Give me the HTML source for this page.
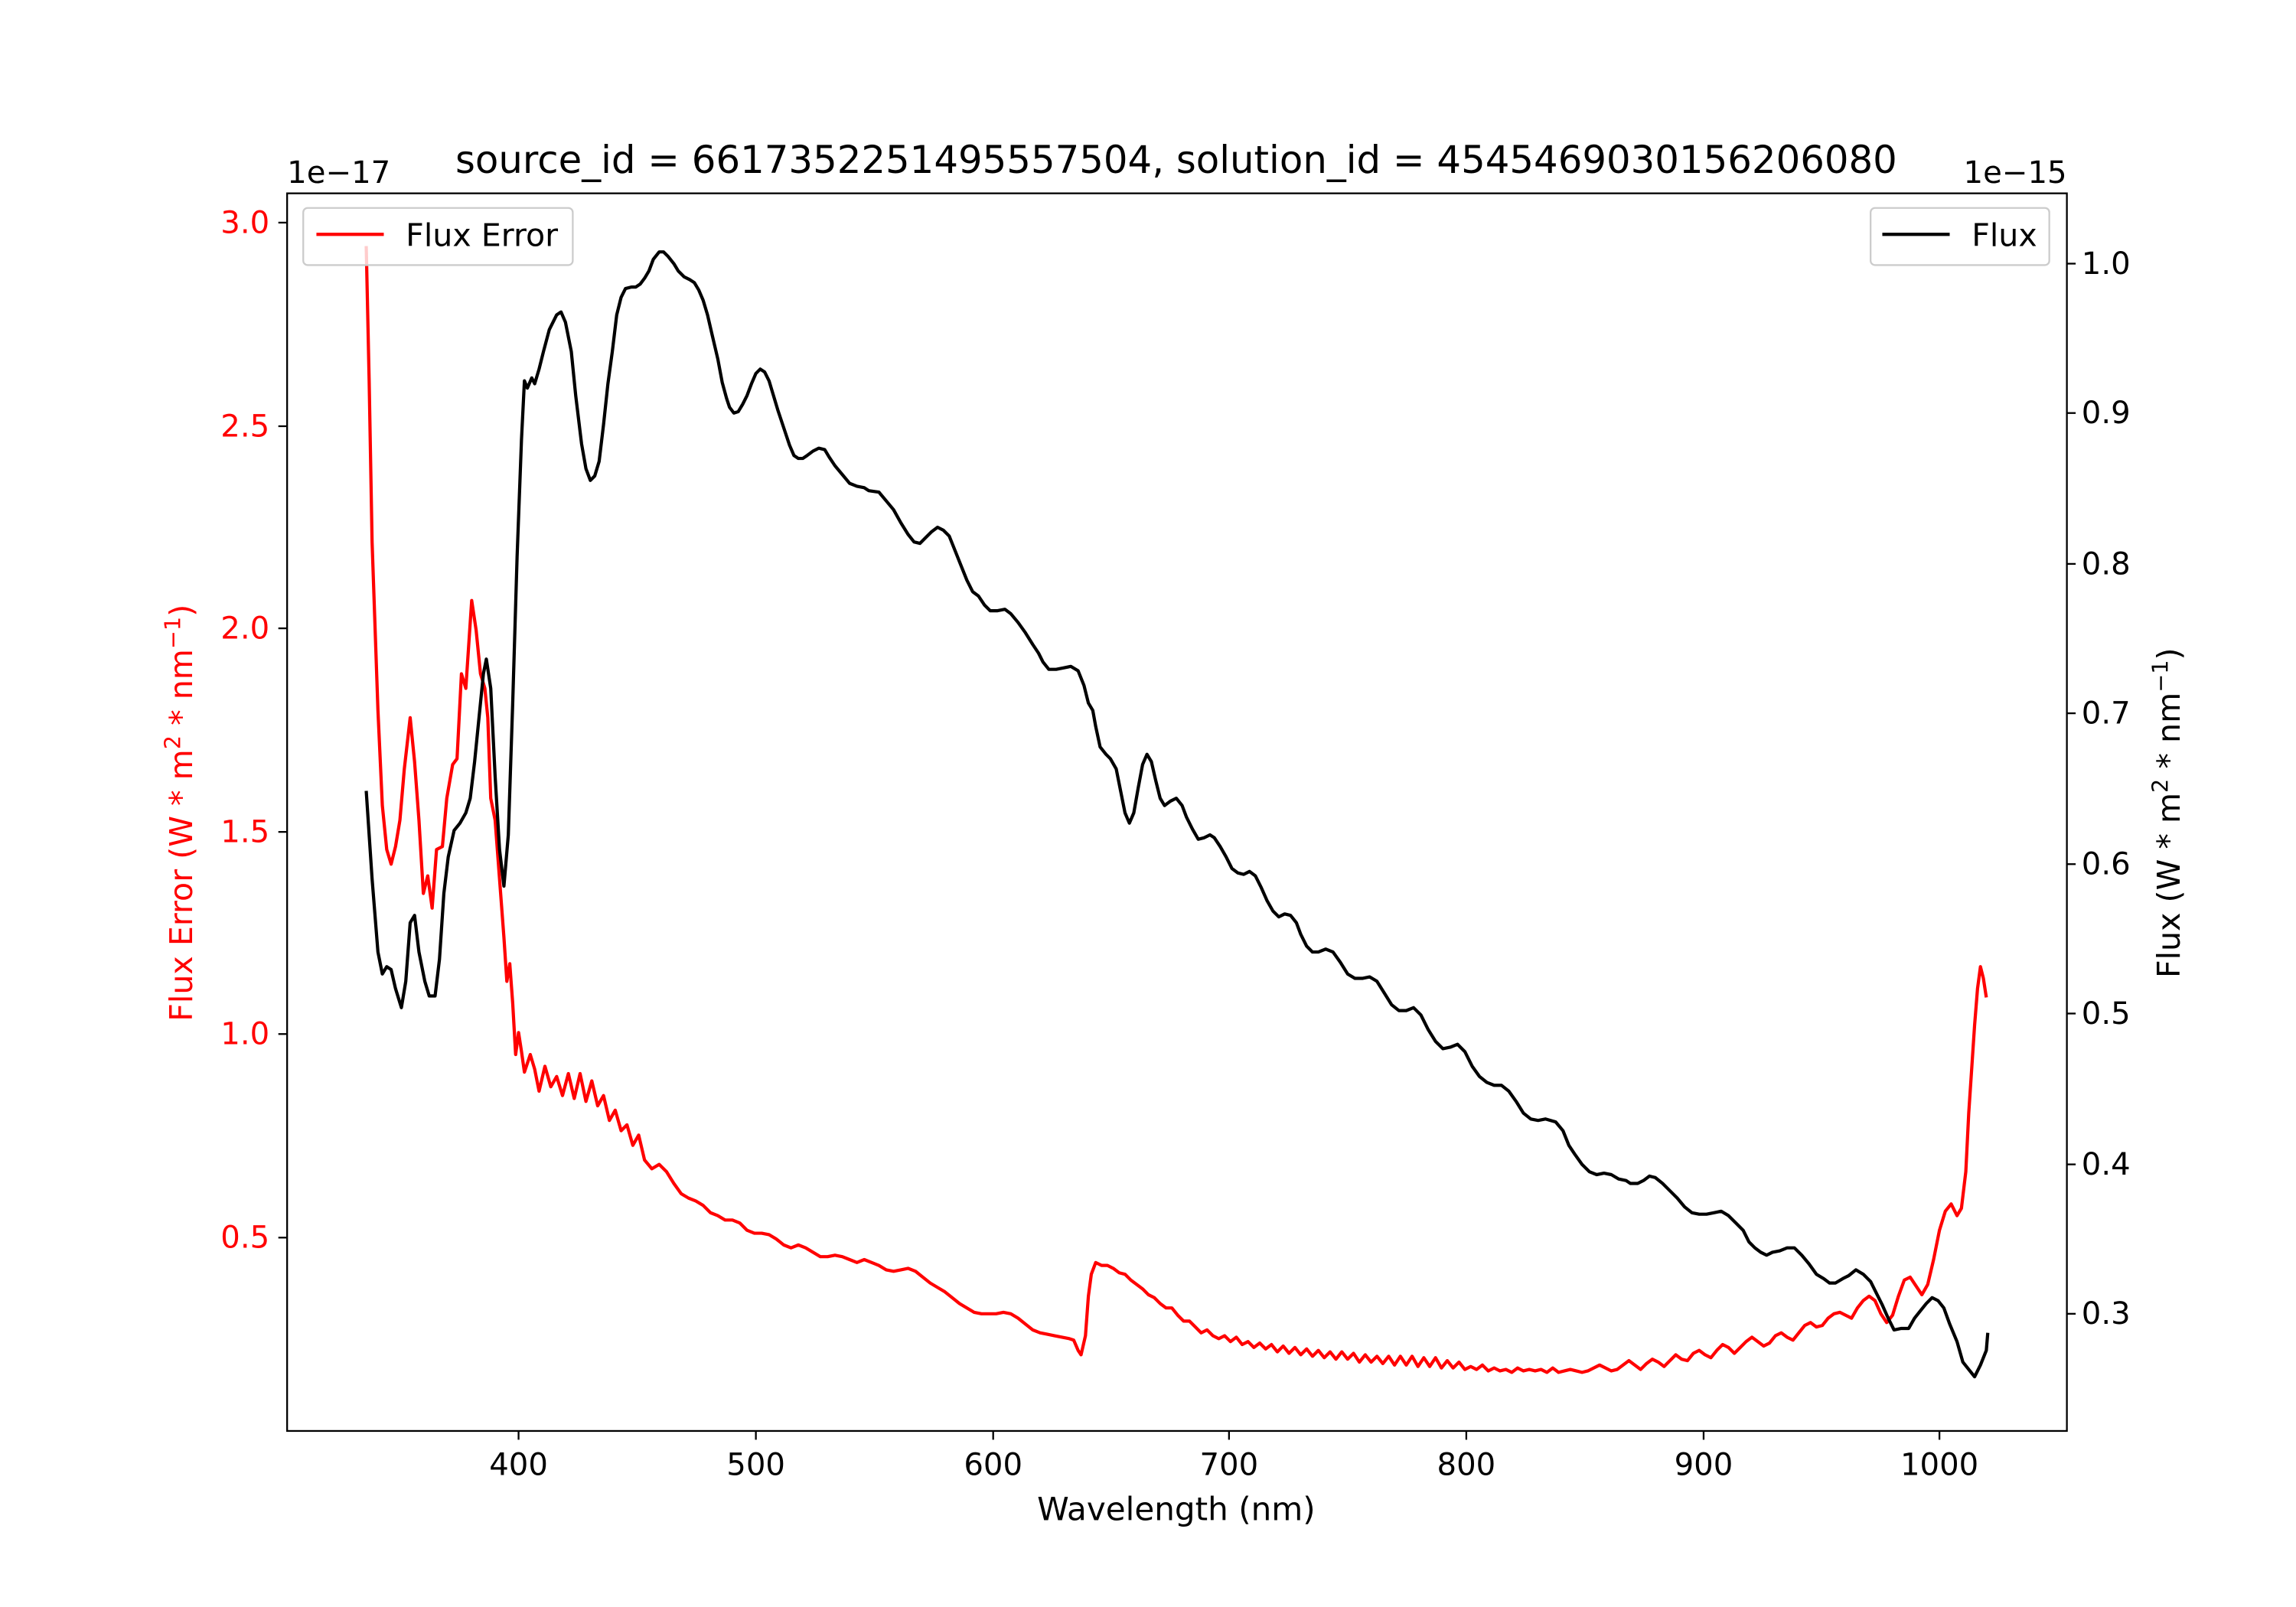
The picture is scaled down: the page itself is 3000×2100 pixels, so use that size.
<!DOCTYPE html><html><head><meta charset="utf-8"><style>html,body{margin:0;padding:0;background:#fff}svg{display:block}text{font-family:"DejaVu Sans","Liberation Sans",sans-serif}</style></head><body>
<svg width="3000" height="2100" viewBox="0 0 1567.4 1097.2" xmlns="http://www.w3.org/2000/svg">
<rect width="1567.4" height="1097.2" fill="#fff"/>
<g fill="none" stroke-linejoin="round" stroke-width="2.2">
<polyline stroke="#f00" points="250,168 252,260 254,370 258,485 261,550 264,580 267,590 270,578 273,560 276,525 280,490 283,520 286,560 289,610 292,598 295,620 298,580 302,578 305,545 309,522 312,518 315,460 318,470 320,440 322,410 325,430 328,460 331,470 333,490 335,545 338,560 341,600 344,640 346,670 348,658 350,685 352,720 354,705 356,718 358,732 362,720 365,730 368,745 372,728 376,742 380,735 384,748 388,733 392,750 396,733 400,752 404,738 408,755 412,748 416,765 420,758 424,772 428,768 432,782 436,775 440,792 445,798 450,795 455,800 460,808 465,815 470,818 475,820 480,823 485,828 490,830 495,833 500,833 505,835 510,840 515,842 520,842 525,843 530,846 535,850 540,852 545,850 550,852 555,855 560,858 565,858 570,857 575,858 580,860 585,862 590,860 595,862 600,864 605,867 610,868 615,867 620,866 625,868 630,872 635,876 640,879 645,882 650,886 655,890 660,893 665,896 670,897 675,897 680,897 685,896 690,897 695,900 700,904 705,908 710,910 715,911 720,912 725,913 730,914 733,915 736,922 738,925 741,912 743,885 745,870 748,862 752,864 756,864 760,866 764,869 768,870 772,874 776,877 780,880 784,884 788,886 792,890 796,893 800,893 804,898 808,902 812,902 816,906 820,910 824,908 828,912 832,914 836,912 840,916 844,913 848,918 852,916 856,920 860,917 864,921 868,918 872,923 876,919 880,924 884,920 888,925 892,921 896,926 900,922 904,927 908,923 912,928 916,923 920,928 924,924 928,930 932,925 936,930 940,926 944,931 948,926 952,932 956,926 960,932 964,926 968,933 972,927 976,933 980,927 984,934 988,929 992,934 996,930 1000,935 1004,933 1008,935 1012,932 1016,936 1020,934 1024,936 1028,935 1032,937 1036,934 1040,936 1044,935 1048,936 1052,935 1056,937 1060,934 1064,937 1068,936 1072,935 1076,936 1080,937 1084,936 1088,934 1092,932 1096,934 1100,936 1104,935 1108,932 1112,929 1116,932 1120,935 1124,931 1128,928 1132,930 1136,933 1140,929 1144,925 1148,928 1152,929 1156,924 1160,922 1164,925 1168,927 1172,922 1176,918 1180,920 1184,924 1188,920 1192,916 1196,913 1200,916 1204,919 1208,917 1212,912 1216,910 1220,913 1224,915 1228,910 1232,905 1236,903 1240,906 1244,905 1248,900 1252,897 1256,896 1260,898 1264,900 1268,893 1272,888 1276,885 1280,888 1284,897 1288,903 1292,898 1296,885 1300,874 1304,872 1308,878 1312,884 1316,877 1320,860 1324,840 1328,827 1332,822 1336,830 1339,825 1342,800 1344,760 1346,730 1348,700 1350,675 1352,660 1354,668 1356,681"/>
<polyline stroke="#000" points="250,540 254,600 258,650 261,665 264,660 267,662 270,675 274,688 277,670 280,630 283,625 286,650 290,670 293,680 297,680 300,655 303,610 306,585 310,567 314,562 318,555 321,545 324,520 327,490 330,460 332,450 335,470 338,530 341,580 344,605 347,570 350,480 353,380 356,300 358,260 360,265 363,258 365,262 368,252 371,240 375,225 380,215 383,213 386,220 390,240 393,270 397,303 400,320 403,328 406,325 409,315 412,290 415,262 418,240 421,215 424,203 427,197 431,196 434,196 437,194 440,190 443,185 446,177 450,172 453,172 456,175 460,180 463,185 467,189 471,191 474,193 477,198 480,205 483,215 486,228 490,245 493,261 496,272 498,278 501,282 504,281 507,276 510,270 513,262 516,255 519,252 522,254 525,260 528,270 531,280 535,292 539,304 542,311 545,313 548,313 551,311 555,308 559,306 563,307 566,312 570,318 575,324 580,330 585,332 590,333 593,335 600,336 605,342 610,348 615,357 620,365 624,370 628,371 632,367 636,363 640,360 644,362 648,366 652,376 656,386 660,396 664,404 668,407 672,413 676,417 681,417 686,416 690,419 695,425 700,432 705,440 709,446 712,452 716,457 721,457 726,456 731,455 736,458 740,468 743,480 746,485 748,496 751,510 755,515 758,518 762,525 765,540 768,555 771,562 774,555 777,538 780,522 783,515 786,520 789,533 792,545 795,550 799,547 803,545 807,550 810,558 814,566 818,573 822,572 826,570 829,572 833,578 837,585 841,593 845,596 849,597 853,595 857,598 861,606 865,615 869,622 873,626 877,624 881,625 885,630 888,638 892,646 896,650 900,650 905,648 910,650 915,657 920,665 925,668 930,668 935,667 940,670 945,678 950,686 955,690 960,690 965,688 970,693 975,703 980,711 985,716 990,715 995,713 1000,718 1005,728 1010,735 1015,739 1020,741 1025,741 1030,745 1035,752 1040,760 1045,764 1050,765 1055,764 1062,766 1067,772 1071,782 1075,788 1080,795 1085,800 1090,802 1095,801 1100,802 1105,805 1110,806 1113,808 1118,808 1122,806 1126,803 1130,804 1135,808 1140,813 1145,818 1150,824 1155,828 1160,829 1165,829 1170,828 1175,827 1180,830 1185,835 1190,840 1194,848 1198,852 1202,855 1206,857 1210,855 1215,854 1220,852 1225,852 1230,857 1235,863 1240,870 1245,873 1249,876 1253,876 1258,873 1262,871 1267,867 1272,870 1277,875 1281,883 1285,891 1289,900 1293,908 1298,907 1303,907 1307,900 1311,895 1315,890 1319,886 1323,888 1327,893 1331,904 1336,916 1340,930 1344,935 1348,940 1352,932 1356,922 1357,910"/>
</g>
<rect x="196" y="132" width="1215" height="845" fill="none" stroke="#000" stroke-width="1.2"/>
<g stroke="#000" stroke-width="1.2">
<line x1="354" y1="977" x2="354" y2="983"/><line x1="516" y1="977" x2="516" y2="983"/><line x1="678" y1="977" x2="678" y2="983"/><line x1="839" y1="977" x2="839" y2="983"/><line x1="1001" y1="977" x2="1001" y2="983"/><line x1="1163" y1="977" x2="1163" y2="983"/><line x1="1324" y1="977" x2="1324" y2="983"/>
<line x1="190" y1="152" x2="196" y2="152"/><line x1="190" y1="291" x2="196" y2="291"/><line x1="190" y1="429" x2="196" y2="429"/><line x1="190" y1="568" x2="196" y2="568"/><line x1="190" y1="706" x2="196" y2="706"/><line x1="190" y1="845" x2="196" y2="845"/>
<line x1="1411" y1="180" x2="1417" y2="180"/><line x1="1411" y1="282" x2="1417" y2="282"/><line x1="1411" y1="385" x2="1417" y2="385"/><line x1="1411" y1="487" x2="1417" y2="487"/><line x1="1411" y1="590" x2="1417" y2="590"/><line x1="1411" y1="692" x2="1417" y2="692"/><line x1="1411" y1="795" x2="1417" y2="795"/><line x1="1411" y1="897" x2="1417" y2="897"/>
</g>
<g font-size="21" text-anchor="middle" fill="#000">
<text x="354" y="1007">400</text><text x="516" y="1007">500</text><text x="678" y="1007">600</text><text x="839" y="1007">700</text><text x="1001" y="1007">800</text><text x="1163" y="1007">900</text><text x="1324" y="1007">1000</text>
</g>
<g font-size="21" text-anchor="end" fill="#f00">
<text x="184" y="159">3.0</text><text x="184" y="298">2.5</text><text x="184" y="436">2.0</text><text x="184" y="575">1.5</text><text x="184" y="713">1.0</text><text x="184" y="852">0.5</text>
</g>
<g font-size="21" text-anchor="start" fill="#000">
<text x="1421" y="187">1.0</text><text x="1421" y="289">0.9</text><text x="1421" y="392">0.8</text><text x="1421" y="494">0.7</text><text x="1421" y="597">0.6</text><text x="1421" y="699">0.5</text><text x="1421" y="802">0.4</text><text x="1421" y="904">0.3</text>
</g>
<text x="196" y="125" font-size="21">1e−17</text>
<text x="1411" y="125" font-size="21" text-anchor="end">1e−15</text>
<text x="803" y="118" font-size="26" text-anchor="middle">source_id = 6617352251495557504, solution_id = 4545469030156206080</text>
<text x="803" y="1038" font-size="22" text-anchor="middle">Wavelength (nm)</text>
<text transform="translate(131,555) rotate(-90)" font-size="21.5" text-anchor="middle" fill="#f00">Flux Error (W * m<tspan font-size="15" dy="-8">2</tspan><tspan dy="8"> * nm</tspan><tspan font-size="15" dy="-8">−1</tspan><tspan dy="8">)</tspan></text>
<text transform="translate(1488,555) rotate(-90)" font-size="21.5" text-anchor="middle" fill="#000">Flux (W * m<tspan font-size="15" dy="-8">2</tspan><tspan dy="8"> * nm</tspan><tspan font-size="15" dy="-8">−1</tspan><tspan dy="8">)</tspan></text>
<rect x="207" y="142" width="184" height="39" rx="3" fill="#fff" fill-opacity="0.8" stroke="#ccc" stroke-width="1.2"/>
<line x1="216" y1="160" x2="262" y2="160" stroke="#f00" stroke-width="2.2"/>
<text x="277" y="168" font-size="21.5">Flux Error</text>
<rect x="1277" y="142" width="122" height="39" rx="3" fill="#fff" fill-opacity="0.8" stroke="#ccc" stroke-width="1.2"/>
<line x1="1285" y1="160" x2="1331" y2="160" stroke="#000" stroke-width="2.2"/>
<text x="1346" y="168" font-size="21.5">Flux</text>
</svg>
</body></html>
